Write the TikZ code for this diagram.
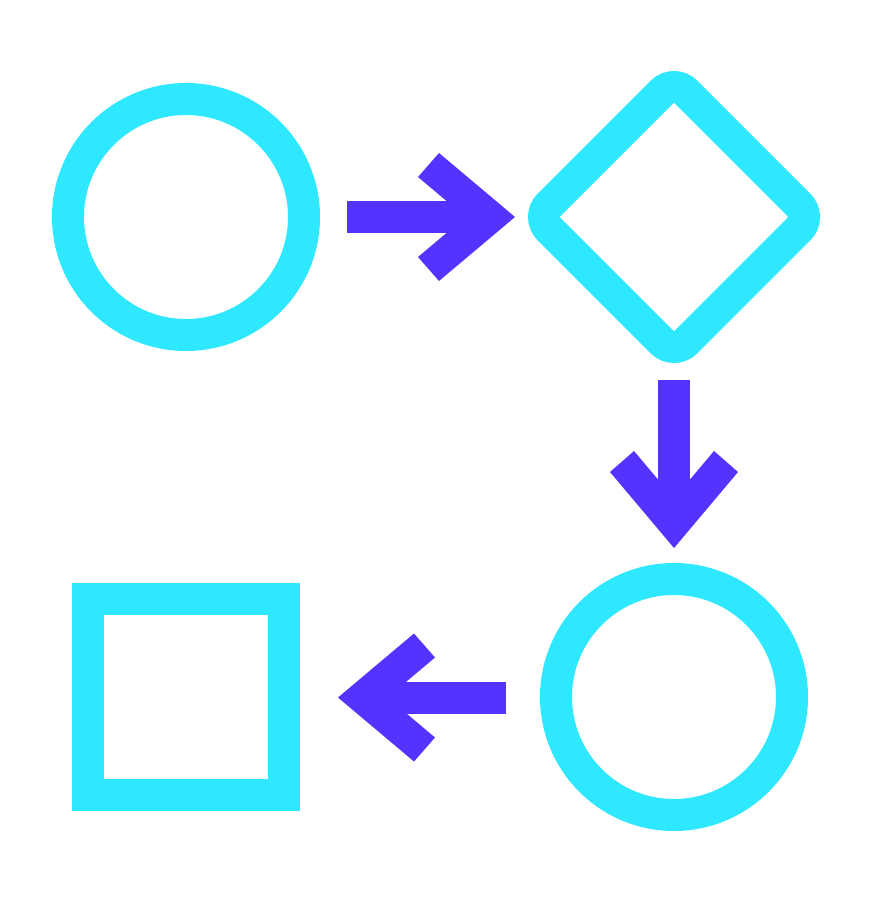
\documentclass[tikz,border=0pt]{standalone}
\usetikzlibrary{shapes.geometric}
\definecolor{cyanshape}{RGB}{45,232,255}
\definecolor{purplearrow}{RGB}{84,51,255}
\tikzset{
  shapeline/.style={draw=cyanshape, line width=32pt, inner sep=0pt, outer sep=0pt},
  ringshape/.style={shapeline, circle, minimum size=236pt},
  diamondshape/.style={shapeline, diamond, shape aspect=1, minimum width=274pt, minimum height=274pt, rounded corners=17pt},
  boxshape/.style={shapeline, rectangle, minimum size=196pt, line join=miter},
  pics/fatarrow/.style={code={
    \fill[purplearrow] (0,0) -- (-76,-64) -- (-97,-40) -- (-49.5,0) -- (-97,40) -- (-76,64) -- cycle;
    \fill[purplearrow] (-168,-16) rectangle (-30,16);
  }}
}
\begin{document}
\begin{tikzpicture}[x=1pt,y=-1pt]
\useasboundingbox (0,0) rectangle (872,905);
\node[ringshape] (start) at (186,217) {};
\node[diamondshape] (decide) at (674,217) {};
\node[ringshape] (step2) at (674,697) {};
\node[boxshape] (finish) at (186,697) {};
\pic at (515,217) {fatarrow};
\pic[rotate=-90] at (674,548) {fatarrow};
\pic[rotate=180] at (338,697.5) {fatarrow};
\end{tikzpicture}
\end{document}
